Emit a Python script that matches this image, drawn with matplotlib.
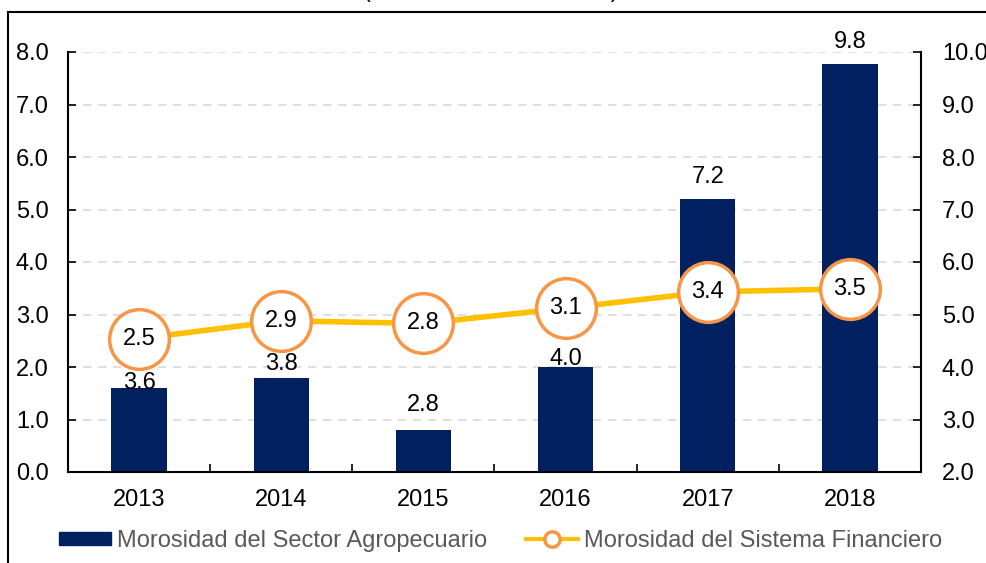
import numpy as np
import matplotlib.pyplot as plt
from matplotlib.lines import Line2D
from matplotlib.patches import Patch

plt.rcParams['font.family'] = ['Liberation Sans', 'DejaVu Sans']

years = ['2013', '2014', '2015', '2016', '2017', '2018']
agro = [3.6, 3.79, 2.8, 4.0, 7.2, 9.77]       # right axis, bars
sistema = [2.54, 2.88, 2.83, 3.12, 3.43, 3.49]  # left axis, line
agro_lbl_off = [-4, 2, 10, -2, 8, 8]            # label offsets (pt) above bar tops

navy = '#002060'
gold = '#FFC000'
orange = '#F79646'
fs = 17

fig = plt.figure(figsize=(9.87, 5.63), dpi=100)
ax = fig.add_axes([68/987, 1-472/563, (921-68)/987, (472-52)/563])
ax2 = ax.twinx()
x = np.arange(len(years))

# bars on the right scale
ax.bar(x, np.array(agro) - 2.0, bottom=2.0, width=0.39, color=navy, zorder=2)
ax.set_ylim(2.0, 10.0)
ax.set_xlim(-0.5, len(years) - 0.5)
ax.yaxis.tick_right()
ax.set_yticks(np.arange(2, 10.1, 1))
ax.set_yticklabels(['%.1f' % v for v in np.arange(2, 10.1, 1)])
ax.grid(axis='y', color='#D9D9D9', linestyle=(0, (5, 4)), linewidth=1.2, zorder=0)
ax.set_axisbelow(True)
for i, v in enumerate(agro):
    ax.annotate('%.1f' % v, (x[i], v), xytext=(0, agro_lbl_off[i]), textcoords='offset points',
                ha='center', va='bottom', fontsize=fs, color='black', zorder=3)

# x axis: ticks between categories pointing inward
ax.set_xticks(x)
ax.set_xticklabels(years, fontsize=fs)
ax.set_xticks(np.arange(0.5, len(years) - 0.6, 1), minor=True)
ax.tick_params(axis='x', which='major', length=0, pad=12)
ax.tick_params(axis='x', which='minor', direction='in', length=6, width=1.2)
ax.tick_params(axis='y', direction='in', length=6, width=1.2, labelsize=fs, pad=15)
for s in ['top', 'left']:
    ax.spines[s].set_visible(False)
ax.spines['bottom'].set_linewidth(1.5)
ax.spines['right'].set_linewidth(1.5)

# line on the left scale
ax2.yaxis.tick_left()
ax2.set_ylim(0, 8)
ax2.set_yticks(np.arange(0, 8.1, 1))
ax2.set_yticklabels(['%.1f' % v for v in np.arange(0, 8.1, 1)])
ax2.tick_params(axis='y', direction='in', length=6, width=1.2, labelsize=fs, pad=14)
for s in ['top', 'right', 'bottom']:
    ax2.spines[s].set_visible(False)
ax2.spines['left'].set_linewidth(1.5)
ax2.plot(x, sistema, color=gold, linewidth=4, zorder=3, solid_capstyle='round')
ax2.plot(x, sistema, linestyle='none', marker='o', markersize=43, markerfacecolor='white',
         markeredgecolor=orange, markeredgewidth=2.5, zorder=4)
for i, v in enumerate(sistema):
    ax2.text(x[i], v, '%.1f' % v, ha='center', va='center', fontsize=fs, zorder=5)

# legend
handles = [Patch(facecolor=navy, edgecolor=navy),
           Line2D([0], [0], color=gold, linewidth=3, marker='o', markersize=11,
                  markerfacecolor='white', markeredgecolor=orange, markeredgewidth=2.5)]
fig.legend(handles, ['Morosidad del Sector Agropecuario', 'Morosidad del Sistema Financiero'],
           loc='center', bbox_to_anchor=(0.507, 1 - 541/563), ncol=2, frameon=False,
           fontsize=fs, labelcolor='#595959', handlelength=2.2, handleheight=0.5,
           columnspacing=1.65, handletextpad=0.25)

# outer frame and cut-off title
fig.patches.append(plt.Rectangle((8/987, -0.1), 1.2, 1 - 12/563 + 0.1, transform=fig.transFigure,
                                 fill=False, edgecolor='black', linewidth=1.5))
fig.text(0.497, 1 + 3/563, '(Ratio de morosidad, %)', ha='center', va='baseline', fontsize=fs)

fig.savefig('out.png', dpi=100)
